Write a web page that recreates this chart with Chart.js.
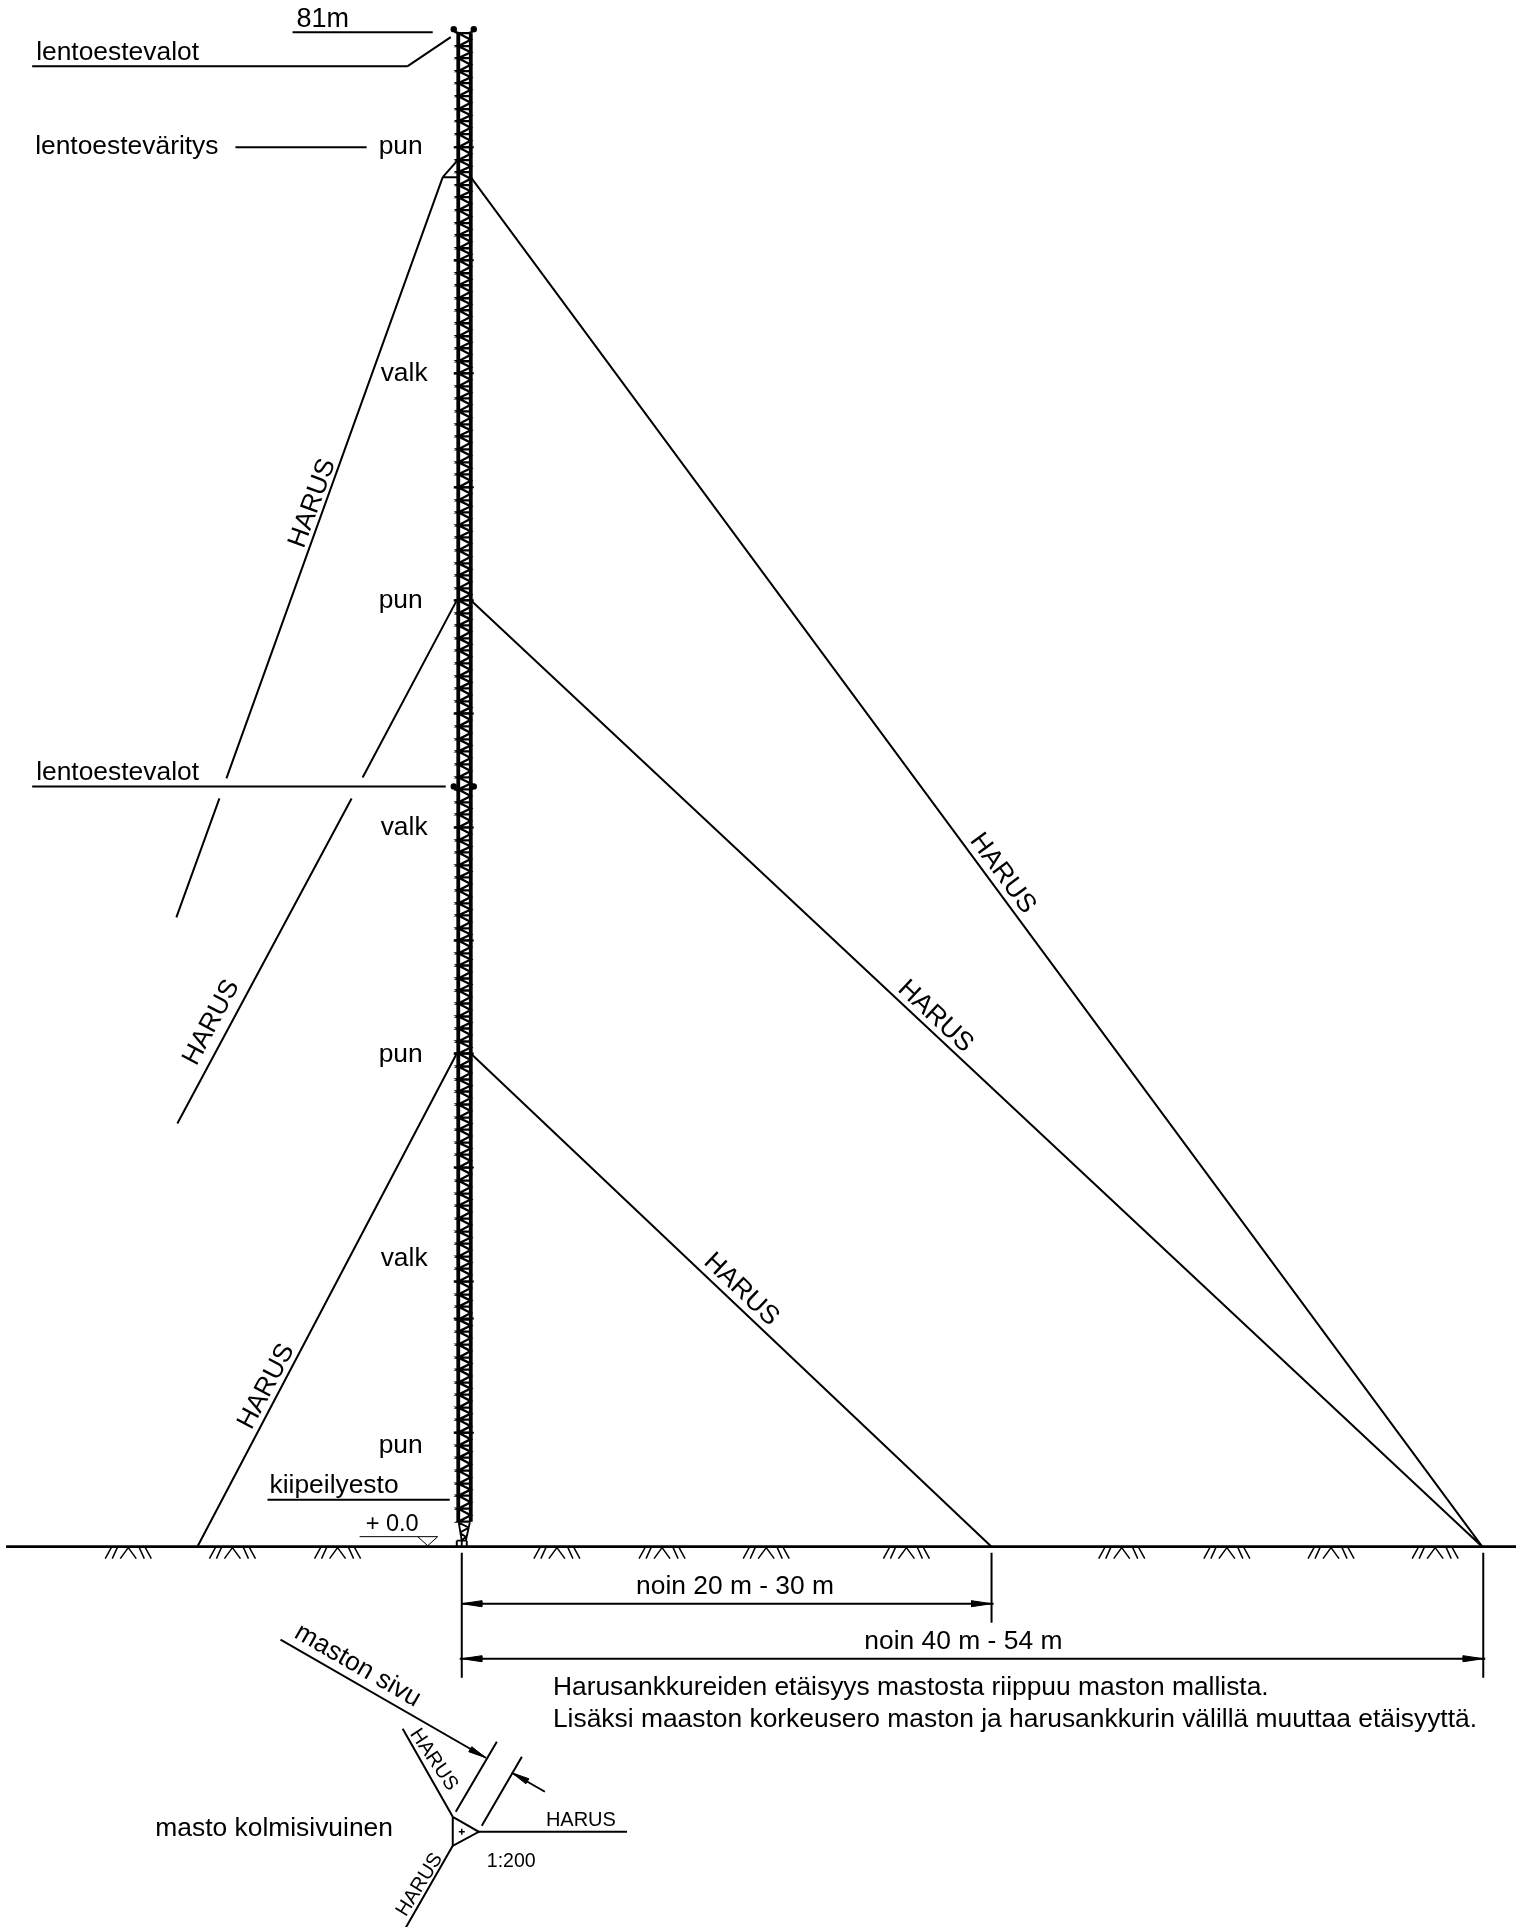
<!DOCTYPE html>
<html><head><meta charset="utf-8">
<style>html,body{margin:0;padding:0;background:#fff}canvas{display:block}</style>
<script src="https://cdn.jsdelivr.net/npm/chart.js@4"></script>
</head><body><canvas id="c" width="1516" height="1927"></canvas>
<script>
// Drawing units on both axes (x to the right, y downward)
const mastRailX = [457.5, 470];
const mastPanelY = [33,46,58,71,83,96,109,121,134,147,160,172,185,197,210,223,235,248,260,273,285,298,310,323,336,348,361,373,386,398,411,424,436,449,462,474,487,500,512,525,537,550,563,575,588,600,613,625,638,650,663,676,688,701,713,726,739,751,764,777,789,802,814,827,840,852,865,877,890,903,915,928,940,953,965,978,990,1003,1016,1028,1041,1053,1066,1079,1091,1104,1117,1129,1142,1154,1167,1180,1193,1205,1218,1231,1243,1256,1268,1281,1294,1306,1319,1331,1344,1357,1369,1382,1394,1407,1419,1432,1445,1457,1470,1483,1495,1508,1521];
const mastCrossbarY = [147,260,373,487,600,713,827,940,1053,1167,1281,1318,1432];
const mastFoot = [[458,1522,461,1540],[469,1522,465,1540],[458,1522,468,1527],[468,1527,459,1532],[459,1532,465,1536],[465,1536,461,1540],[456,1540,466,1540],[456,1540,456,1546],[466,1540,466,1546],[461,1540,461,1546]];
const guyWires = [[442,177,226,778],[219,798,176,917],[456,600,362,777],[351,798,177,1123],[456,1053,197,1546],[470,177,1480,1546],[470,600,1480,1546],[470,1053,990,1546],[457,160,442,177],[442,177,458,177]];
const lightPoints = [[453,29],[473,29],[453,786],[473,786]];
const lightArcs = [[453,29,455,32],[455,32,458,33],[473,29,471,32],[471,32,468,33],[453,786,455,789],[455,789,458,790],[473,786,471,789],[471,789,468,790]];
const leaderLines = [[292,32,432,32],[32,66,407,66],[407,66,450,37],[235,147,366,147],[32,786,445,786],[267,1499,449,1499]];
const levelMark = [[359,1536,437,1536],[417,1536,427,1545],[427,1545,437,1536]];
const groundLine = [[6,1546,1516,1546]];
const hatchCentersX = [128,232,337,556,661,765,905,1120,1225,1329,1433];
const hatchStrokes = [[-23,1558,-17,1547],[-16,1558,-11,1547],[-8,1558,0,1547],[0,1547,8,1558],[11,1547,16,1558],[17,1547,23,1558]];
const dimensionLines = [[461,1552,461,1677],[990,1552,990,1622],[1481,1552,1481,1677],[461,1603,992,1603],[459,1658,1483,1658]];
const sideDetail = [[280,1639,485,1757],[455,1811,496,1741],[481,1825,521,1756],[511,1772,544,1791],[452,1816,402,1728],[478,1831,626,1831],[452,1845,405,1927]];
const planTriangle = [[452,1816],[478,1831],[452,1845],[452,1816]];
const planCross = [[458,1831,464,1831],[461,1828,461,1834]];
const arrowHeads = [
  [[461,1603],[481,1600],[481,1606],[461,1603]],
  [[990,1603],[970,1600],[970,1606],[990,1603]],
  [[461,1658],[481,1655],[481,1661],[461,1658]],
  [[1481,1658],[1461,1655],[1461,1661],[1481,1658]],
  [[485,1757],[471,1746],[468,1751],[485,1757]],
  [[511,1772],[528,1778],[525,1783],[511,1772]]
];
const labelTexts = ["81m","lentoestevalot","lentoesteväritys","pun","valk","pun","lentoestevalot","valk","pun","valk","pun","kiipeilyesto","+ 0.0","noin 20 m - 30 m","noin 40 m - 54 m","Harusankkureiden etäisyys mastosta riippuu maston mallista.","Lisäksi maaston korkeusero maston ja harusankkurin välillä muuttaa etäisyyttä.","masto kolmisivuinen","1:200","HARUS"];
const labelX = [296,36,35,378,380,378,36,380,378,380,378,269,365,635,863,552,552,155,486,545];
const labelY = [27,60,154,154,381,608,780,835,1061,1265,1452,1492,1530,1593,1648,1694,1726,1835,1866,1825];
const labelSize = [27,26.4,26.4,26.4,26.4,26.4,26.4,26.4,26.4,26.4,26.4,26.4,23.5,26.4,26.4,26.4,26.4,26.4,19.5,20];
const angledTexts = ["HARUS","HARUS","HARUS","HARUS","HARUS","HARUS","HARUS","HARUS","maston sivu"];
const angledX = [312,211,266,1001,934,740,433,419,357];
const angledY = [503,1022,1386,873,1016,1289,1759,1884,1665];
const angledDeg = [-70,-62,-62,53.6,43.1,43.5,56,-58,30];
const angledSize = [26.4,26.4,26.4,26.4,26.4,26.4,20,20,26.4];

const toPts = segs => segs.flatMap(s => [{x:s[0],y:s[1]},{x:s[2],y:s[3]},{x:NaN,y:NaN}]);
const poly = pts => pts.map(p => ({x:p[0],y:p[1]}));
const line = (data,w,color) => ({data,showLine:true,fill:false,borderColor:color||'#000',backgroundColor:color||'#000',borderWidth:w,pointRadius:0,borderCapStyle:'butt',borderJoinStyle:'miter',clip:false});

const [railL,railR] = mastRailX;
const lattice = [];
mastPanelY.forEach((y,i) => {
  const next = mastPanelY[i+1];
  lattice.push({x:railL,y},{x:railR,y},{x:railL,y});
  if (next !== undefined) lattice.push({x:railR,y:(y+next)/2},{x:railL,y:next});
});
const rails = toPts(mastRailX.map(x => [x,mastPanelY[0],x,mastPanelY[mastPanelY.length-1]]));
const bars = toPts(mastCrossbarY.map(y => [453,y,473,y]));
const hatches = toPts(hatchCentersX.flatMap(c => hatchStrokes.map(s => [c+s[0],s[1],c+s[2],s[3]])));

const datasets = [
  line(lattice,2.3),
  line(rails,3.8),
  line(bars,2),
  line(toPts(mastFoot),1.9),
  line(toPts(guyWires),2),
  line(toPts(lightArcs),2.6),
  {data:poly(lightPoints),showLine:false,pointRadius:3.2,pointBackgroundColor:'#000',pointBorderWidth:0,clip:false},
  line(toPts(leaderLines),2),
  line(toPts(levelMark),1),
  line(toPts(groundLine),2.6),
  line(hatches,1.5),
  line(toPts(dimensionLines),2),
  line(toPts(sideDetail),2),
  line(poly(planTriangle),2),
  line(toPts(planCross),1.5),
  ...arrowHeads.map(a => Object.assign(line(poly(a),1),{fill:'shape'}))
];

const textPlugin = {
  id:'drawingText',
  afterDatasetsDraw(chart){
    const {ctx,scales:{x,y}} = chart;
    ctx.save();
    ctx.fillStyle = '#000';
    ctx.textAlign = 'left';
    ctx.textBaseline = 'alphabetic';
    labelTexts.forEach((t,i) => {
      ctx.font = labelSize[i]+'px "Liberation Sans"';
      ctx.fillText(t,x.getPixelForValue(labelX[i]),y.getPixelForValue(labelY[i]));
    });
    ctx.textAlign = 'center';
    ctx.textBaseline = 'middle';
    angledTexts.forEach((t,i) => {
      ctx.save();
      ctx.translate(x.getPixelForValue(angledX[i]),y.getPixelForValue(angledY[i]));
      ctx.rotate(angledDeg[i]*Math.PI/180);
      ctx.font = angledSize[i]+'px "Liberation Sans"';
      ctx.fillText(t,0,0);
      ctx.restore();
    });
    ctx.restore();
  }
};

new Chart(document.getElementById('c'),{
  type:'scatter',
  data:{datasets},
  options:{
    responsive:false,animation:false,devicePixelRatio:1,
    layout:{padding:0},
    plugins:{legend:{display:false},tooltip:{enabled:false},title:{display:false}},
    scales:{
      x:{type:'linear',min:3.9,max:1509.7,display:false},
      y:{type:'linear',min:3.85,max:1922.2,reverse:true,display:false}
    }
  },
  plugins:[textPlugin]
});
</script></body></html>
